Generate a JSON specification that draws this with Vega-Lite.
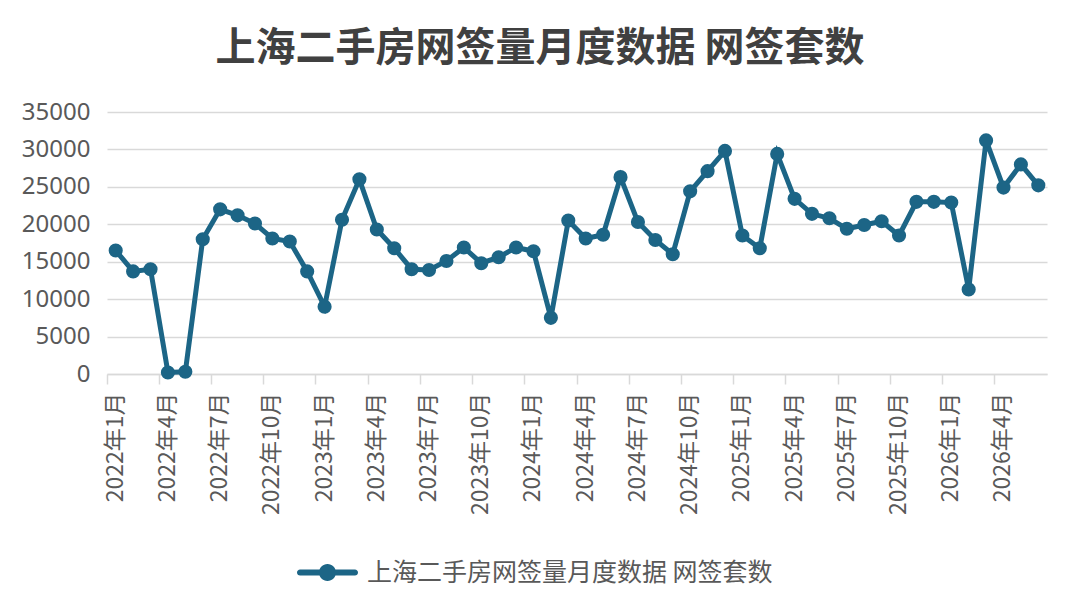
{
  "$schema": "https://vega.github.io/schema/vega-lite/v6.json",
  "autosize": {"type": "none"},
  "width": 940,
  "height": 262,
  "padding": {"left": 107, "top": 112, "right": 33, "bottom": 241},
  "background": "#ffffff",
  "config": {
    "view": {"stroke": "transparent"},
    "font": "Noto Sans CJK SC"
  },
  "title": {
    "text": "上海二手房网签量月度数据 网签套数",
    "fontSize": 40,
    "fontWeight": "bold",
    "color": "#404040",
    "font": "Noto Sans CJK SC",
    "anchor": "middle",
    "frame": "group",
    "baseline": "bottom",
    "offset": -9,
    "dx": -37
  },
  "data": {
    "values": [
      {"month": "2022年1月", "count": 16500},
      {"month": "2022年2月", "count": 13700},
      {"month": "2022年3月", "count": 14000},
      {"month": "2022年4月", "count": 200},
      {"month": "2022年5月", "count": 300},
      {"month": "2022年6月", "count": 18000},
      {"month": "2022年7月", "count": 22000},
      {"month": "2022年8月", "count": 21200},
      {"month": "2022年9月", "count": 20100},
      {"month": "2022年10月", "count": 18100},
      {"month": "2022年11月", "count": 17700},
      {"month": "2022年12月", "count": 13700},
      {"month": "2023年1月", "count": 9000},
      {"month": "2023年2月", "count": 20600},
      {"month": "2023年3月", "count": 26000},
      {"month": "2023年4月", "count": 19300},
      {"month": "2023年5月", "count": 16800},
      {"month": "2023年6月", "count": 14000},
      {"month": "2023年7月", "count": 13900},
      {"month": "2023年8月", "count": 15100},
      {"month": "2023年9月", "count": 16900},
      {"month": "2023年10月", "count": 14800},
      {"month": "2023年11月", "count": 15600},
      {"month": "2023年12月", "count": 16900},
      {"month": "2024年1月", "count": 16400},
      {"month": "2024年2月", "count": 7500},
      {"month": "2024年3月", "count": 20500},
      {"month": "2024年4月", "count": 18100},
      {"month": "2024年5月", "count": 18600},
      {"month": "2024年6月", "count": 26300},
      {"month": "2024年7月", "count": 20300},
      {"month": "2024年8月", "count": 17900},
      {"month": "2024年9月", "count": 16000},
      {"month": "2024年10月", "count": 24400},
      {"month": "2024年11月", "count": 27100},
      {"month": "2024年12月", "count": 29800},
      {"month": "2025年1月", "count": 18500},
      {"month": "2025年2月", "count": 16800},
      {"month": "2025年3月", "count": 29400},
      {"month": "2025年4月", "count": 23400},
      {"month": "2025年5月", "count": 21400},
      {"month": "2025年6月", "count": 20800},
      {"month": "2025年7月", "count": 19400},
      {"month": "2025年8月", "count": 19900},
      {"month": "2025年9月", "count": 20400},
      {"month": "2025年10月", "count": 18500},
      {"month": "2025年11月", "count": 23000},
      {"month": "2025年12月", "count": 23000},
      {"month": "2026年1月", "count": 22900},
      {"month": "2026年2月", "count": 11300},
      {"month": "2026年3月", "count": 31200},
      {"month": "2026年4月", "count": 24900},
      {"month": "2026年5月", "count": 28000},
      {"month": "2026年6月", "count": 25200}
    ]
  },
  "encoding": {
    "y": {
      "field": "count",
      "type": "quantitative",
      "scale": {"domain": [0, 35000], "nice": false},
      "axis": {
        "title": null,
        "values": [0, 5000, 10000, 15000, 20000, 25000, 30000, 35000],
        "format": "d",
        "domain": false,
        "ticks": false,
        "grid": true,
        "gridColor": "#d9d9d9",
        "gridWidth": 1.5,
        "labelFontSize": 24,
        "labelColor": "#595959",
        "labelPadding": 17,
        "labelOverlap": false,
        "labelFont": "Noto Sans"
      }
    }
  },
  "layer": [
    {
      "mark": {"type": "line", "color": "#1c6586", "strokeWidth": 5},
      "encoding": {
        "x": {
          "field": "month",
          "type": "ordinal",
          "sort": null,
          "scale": {"type": "band", "paddingInner": 0, "paddingOuter": 0},
          "axis": {
            "orient": "bottom",
            "title": null,
            "values": ["2022年1月", "2022年4月", "2022年7月", "2022年10月", "2023年1月", "2023年4月", "2023年7月", "2023年10月", "2024年1月", "2024年4月", "2024年7月", "2024年10月", "2025年1月", "2025年4月", "2025年7月", "2025年10月", "2026年1月", "2026年4月"],
            "ticks": false,
            "domain": true,
            "domainColor": "#d9d9d9",
            "domainWidth": 1.5,
            "labelAngle": 270,
            "labelFontSize": 23,
            "labelColor": "#595959",
            "labelPadding": 18,
            "labelOverlap": false,
            "labelLimit": 300
          }
        }
      }
    },
    {
      "mark": {"type": "point", "filled": true, "size": 200, "opacity": 1, "shape": "circle"},
      "encoding": {
        "x": {
          "field": "month",
          "type": "ordinal",
          "sort": null,
          "scale": {"type": "band", "paddingInner": 0, "paddingOuter": 0},
          "axis": {
            "orient": "bottom",
            "title": null,
            "values": ["2022年1月", "2022年4月", "2022年7月", "2022年10月", "2023年1月", "2023年4月", "2023年7月", "2023年10月", "2024年1月", "2024年4月", "2024年7月", "2024年10月", "2025年1月", "2025年4月", "2025年7月", "2025年10月", "2026年1月", "2026年4月"],
            "bandPosition": 0,
            "labels": false,
            "domain": false,
            "ticks": true,
            "tickSize": 10,
            "tickColor": "#d9d9d9",
            "tickWidth": 1.5
          }
        },
        "color": {
          "datum": "上海二手房网签量月度数据 网签套数",
          "type": "nominal",
          "scale": {"range": ["#1c6586"]},
          "legend": {
            "title": null,
            "orient": "none",
            "legendX": 190,
            "legendY": 430,
            "symbolType": "M-0.9,-0.1 L0.9,-0.1 A0.1,0.1 0 0 1 0.9,0.1 L-0.9,0.1 A0.1,0.1 0 0 1 -0.9,-0.1 Z M0.28,0 A0.28,0.28 0 1 1 -0.28,0 A0.28,0.28 0 1 1 0.28,0 Z",
            "symbolSize": 3721,
            "symbolStrokeWidth": 0,
            "symbolOpacity": 1,
            "labelFontSize": 25,
            "labelColor": "#595959",
            "labelOffset": 9,
            "labelLimit": 600
          }
        }
      }
    }
  ],
  "resolve": {"axis": {"x": "independent"}}
}
